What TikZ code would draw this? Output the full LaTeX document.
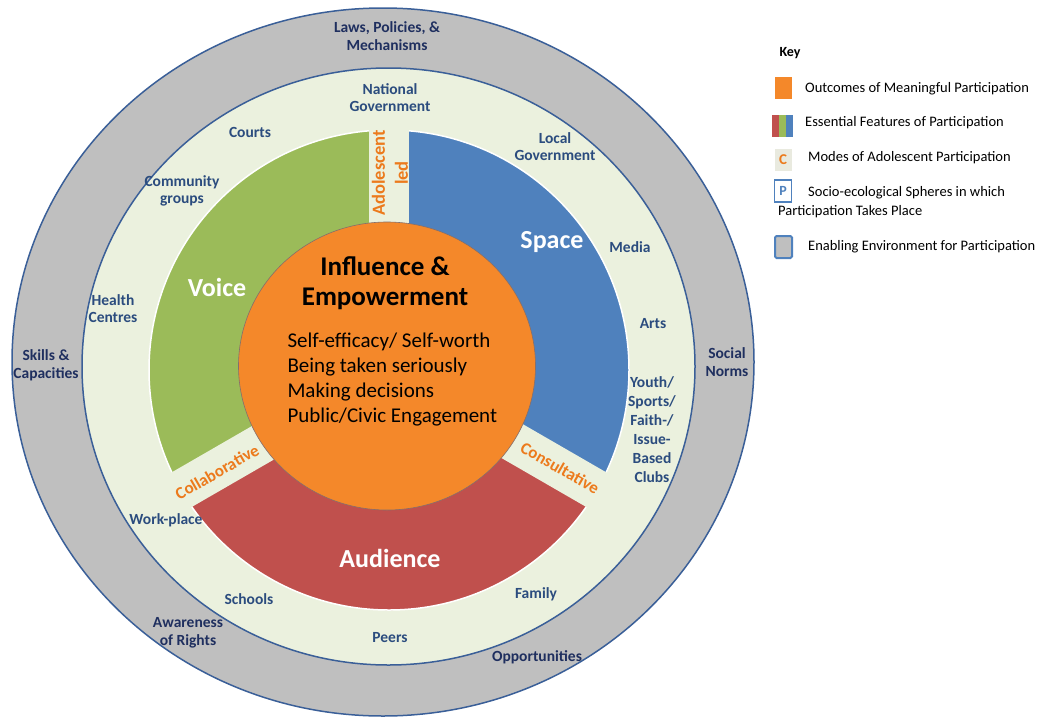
\documentclass[tikz,border=0pt]{standalone}
\usepackage{fontspec}
\setmainfont{Carlito}
\definecolor{ringgray}{HTML}{BFBFBF}
\definecolor{ringline}{HTML}{3A5F98}
\definecolor{lightbg}{HTML}{EBF1DE}
\definecolor{voicegreen}{HTML}{9BBB59}
\definecolor{spaceblue}{HTML}{4F81BD}
\definecolor{audiencered}{HTML}{C0504D}
\definecolor{outcomeorange}{HTML}{F4882A}
\definecolor{modeorange}{HTML}{EC7A1C}
\definecolor{sphereblue}{HTML}{2B4C7E}
\definecolor{navy}{HTML}{1F2F5F}
\definecolor{keybeige}{HTML}{E9EADF}

\begin{document}
\begin{tikzpicture}[x=1pt,y=1pt,
    sphere/.style={font=\fontsize{15.5}{17}\selectfont\bfseries, text=sphereblue, align=center},
    enabler/.style={font=\fontsize{15.5}{18}\selectfont\bfseries, text=navy, align=center},
    mode/.style={font=\fontsize{17}{23}\selectfont\bfseries, text=modeorange, align=center},
    feature/.style={font=\fontsize{26}{28}\selectfont\bfseries, text=white},
    keytext/.style={font=\fontsize{14.5}{16}\selectfont, anchor=west, inner sep=0pt},
    swatch/.style={minimum width=17pt, minimum height=22pt, inner sep=0pt}]
    \useasboundingbox (0,0) rectangle (1044,-718);

    % rings
    \fill[ringgray, draw=ringline, line width=1.5] (383,-362) ellipse [x radius=371, y radius=354];
    \fill[lightbg, draw=ringline, line width=1.5] (388.5,-366.5) ellipse [x radius=306.5, y radius=298.5];

    % the three features
    \coordinate (hub) at (389,-370);
    \fill[voicegreen] (hub) -- ++(90:240) arc[start angle=90, end angle=210, radius=240] -- cycle;
    \fill[spaceblue] (hub) -- ++(-30:240) arc[start angle=-30, end angle=90, radius=240] -- cycle;
    \fill[audiencered] (hub) -- ++(210:240) arc[start angle=210, end angle=330, radius=240] -- cycle;
    \draw[white, line width=1.5] (hub) circle (240);
    \foreach \a in {90,210,330}
        \draw[lightbg, line width=40] (hub) -- ++(\a:262);

    % outcomes
    \fill[outcomeorange, draw=ringline!60!outcomeorange, line width=0.6] (387,-366) ellipse [x radius=148.5, y radius=144];
    \node[font=\fontsize{27}{30}\selectfont\bfseries, align=center] (outcome) at (385,-283) {Influence \&\\Empowerment};
    \node[font=\fontsize{21}{25}\selectfont, align=left, anchor=west] (gains) at (284,-380)
        {Self-efficacy/ Self-worth\\Being taken seriously\\Making decisions\\Public/Civic Engagement};

    \node[feature] (voice) at (217,-287) {Voice};
    \node[feature] (space) at (552,-242) {Space};
    \node[feature] (audience) at (390,-558) {Audience};

    \node[mode, font=\fontsize{18.5}{23}\selectfont\bfseries, rotate=90] (adolescent) at (390,-173) {Adolescent\\led};
    \node[mode, rotate=30] (collab) at (217,-472) {Collaborative};
    \node[mode, rotate=-30] (consult) at (560,-468) {Consultative};

    % spheres
    \node[sphere] (national) at (390,-98) {National\\Government};
    \node[sphere] (courts) at (250,-132) {Courts};
    \node[sphere] (community) at (182,-191) {Community\\groups};
    \node[sphere] (health) at (113,-309) {Health\\Centres};
    \node[sphere] (local) at (555,-147) {Local\\Government};
    \node[sphere] (media) at (630,-247) {Media};
    \node[sphere] (arts) at (653,-324) {Arts};
    \node[sphere, font=\fontsize{15.5}{19}\selectfont\bfseries] (clubs) at (652,-430) {Youth/\\Sports/\\Faith-/\\Issue-\\Based\\Clubs};
    \node[sphere] (work) at (166,-520) {Work-place};
    \node[sphere] (schools) at (249,-599) {Schools};
    \node[sphere] (peers) at (390,-638) {Peers};
    \node[sphere] (family) at (536,-594) {Family};

    % enabling environment
    \node[enabler] (laws) at (387,-36) {Laws, Policies, \&\\Mechanisms};
    \node[enabler] (skills) at (46,-365) {Skills \&\\Capacities};
    \node[enabler] (norms) at (727,-362) {Social\\Norms};
    \node[enabler] (rights) at (188,-633) {Awareness\\of Rights};
    \node[enabler] (chances) at (537,-657) {Opportunities};

    % key
    \node[font=\fontsize{14}{15}\selectfont\bfseries] (key) at (790,-53) {Key};
    \node[swatch, fill=outcomeorange] (keyorange) at (783.5,-88) {};
    \node[keytext] (keyorangetext) at (805,-89) {Outcomes of Meaningful Participation};
    \fill[audiencered] (772,-115) rectangle (779,-137);
    \fill[voicegreen] (779,-115) rectangle (786,-137);
    \fill[spaceblue] (786,-115) rectangle (793,-137);
    \node[keytext] (keybarstext) at (805,-123) {Essential Features of Participation};
    \node[swatch, fill=keybeige, text=modeorange, font=\fontsize{15}{16}\selectfont\bfseries] (keymode) at (783,-160) {C};
    \node[keytext] (keymodetext) at (808,-158) {Modes of Adolescent Participation};
    \node[swatch, fill=white, draw=spaceblue, line width=1.5, text=spaceblue, font=\fontsize{14}{15}\selectfont\bfseries] (keysphere) at (783,-191) {P};
    \node[keytext] (keyspheretext) at (808,-193) {Socio-ecological Spheres in which};
    \node[keytext] (keyspheretext2) at (778,-212) {Participation Takes Place};
    \node[swatch, fill=ringgray, draw=spaceblue, line width=2, rounded corners=1.5] (keyring) at (783.5,-247) {};
    \node[keytext] (keyringtext) at (808,-247) {Enabling Environment for Participation};
\end{tikzpicture}
\end{document}
